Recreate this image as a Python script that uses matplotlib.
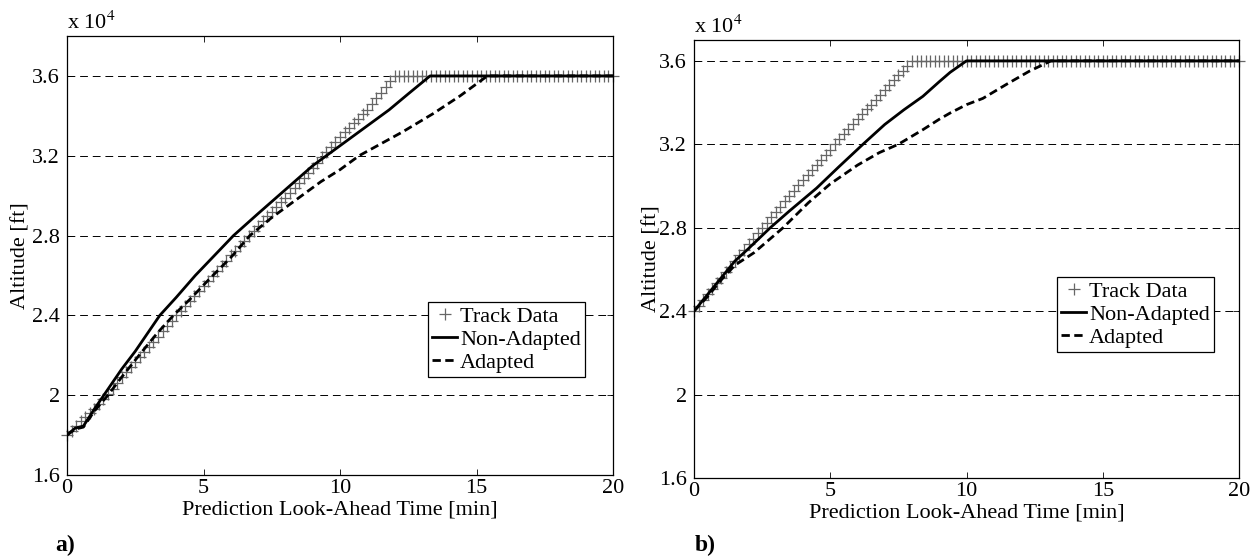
import numpy as np
import matplotlib
matplotlib.use("Agg")
import matplotlib.pyplot as plt
from matplotlib.ticker import FormatStrFormatter

plt.rcParams["font.family"] = ["Liberation Serif", "DejaVu Serif"]
plt.rcParams["mathtext.fontset"] = "stix"

# track data sampled every 10 s (altitude in ft)
track_dt_min = 10.0 / 60.0

track_a = [
    18000, 18230, 18470, 18700, 18900, 19100, 19300, 19550, 19800, 20050,
    20330, 20620, 20900, 21150, 21400, 21650, 21900, 22150, 22400, 22670,
    22930, 23200, 23470, 23730, 24000, 24240, 24480, 24730, 24970, 25210,
    25450, 25710, 25970, 26230, 26480, 26740, 27000, 27250, 27500, 27750,
    28000, 28250, 28500, 28730, 28970, 29200, 29430, 29670, 29900, 30150,
    30400, 30650, 30900, 31150, 31400, 31660, 31920, 32170, 32430, 32690,
    32950, 33180, 33400, 33630, 33850, 34080, 34300, 34580, 34870, 35150,
    35430, 35720, 36000, 36000, 36000, 36000, 36000, 36000, 36000, 36000,
    36000, 36000, 36000, 36000, 36000, 36000, 36000, 36000, 36000, 36000,
    36000, 36000, 36000, 36000, 36000, 36000, 36000, 36000, 36000, 36000,
    36000, 36000, 36000, 36000, 36000, 36000, 36000, 36000, 36000, 36000,
    36000, 36000, 36000, 36000, 36000, 36000, 36000, 36000, 36000, 36000,
    36000,
]

track_b = [
    24000, 24270, 24530, 24800, 25070, 25330, 25600, 25870, 26130, 26400,
    26670, 26930, 27200, 27470, 27730, 28000, 28250, 28500, 28750, 29010,
    29270, 29530, 29780, 30040, 30300, 30540, 30780, 31030, 31270, 31510,
    31750, 31990, 32230, 32480, 32720, 32960, 33200, 33430, 33670, 33900,
    34130, 34370, 34600, 34830, 35070, 35300, 35530, 35770, 36000, 36000,
    36000, 36000, 36000, 36000, 36000, 36000, 36000, 36000, 36000, 36000,
    36000, 36000, 36000, 36000, 36000, 36000, 36000, 36000, 36000, 36000,
    36000, 36000, 36000, 36000, 36000, 36000, 36000, 36000, 36000, 36000,
    36000, 36000, 36000, 36000, 36000, 36000, 36000, 36000, 36000, 36000,
    36000, 36000, 36000, 36000, 36000, 36000, 36000, 36000, 36000, 36000,
    36000, 36000, 36000, 36000, 36000, 36000, 36000, 36000, 36000, 36000,
    36000, 36000, 36000, 36000, 36000, 36000, 36000, 36000, 36000, 36000,
    36000,
]

# trajectory predictions (time in min, altitude in ft)
nonadapt_a_t = [0, 0.3, 0.6, 1.0, 1.4, 2.0, 2.5, 3.0, 3.4, 4.0, 4.7, 5.4,
                6.1, 7.0, 8.0, 9.0, 9.5, 10.0, 10.6, 11.2, 11.8, 12.5, 13.3, 20]
nonadapt_a = [18000, 18350, 18450, 19300, 20100, 21300, 22200, 23200, 24000,
              24900, 26000, 27000, 28000, 29100, 30300, 31500, 32000, 32500,
              33100, 33700, 34300, 35100, 36000, 36000]

adapt_a_t = [0, 0.3, 0.6, 1.0, 1.5, 2.0, 2.7, 3.3, 3.9, 4.5, 5.2, 6.0, 6.7,
             7.5, 8.5, 9.3, 10.0, 10.7, 11.5, 12.3, 13.4, 14.4, 15.4, 20]
adapt_a = [18000, 18300, 18400, 19200, 20000, 20900, 22100, 23100, 24000,
           24800, 25800, 26900, 28000, 28900, 29900, 30700, 31300, 32000,
           32600, 33200, 34100, 35000, 36000, 36000]

nonadapt_b_t = [0, 0.5, 1.0, 1.5, 2.0, 2.8, 3.5, 4.5, 5.3, 6.2, 7.0, 7.7,
                8.4, 9.0, 9.4, 10.0, 20]
nonadapt_b = [24000, 24800, 25600, 26400, 27000, 28000, 28800, 29900, 30900,
              32000, 32950, 33650, 34300, 35000, 35450, 36000, 36000]

adapt_b_t = [0, 0.5, 1.0, 1.5, 2.2, 3.27, 4.2, 5.0, 6.0, 6.8, 7.5, 8.4, 9.0,
             9.4, 10.0, 10.6, 11.5, 12.3, 13.1, 20]
adapt_b = [24000, 24700, 25500, 26200, 26800, 28000, 29200, 30100, 31000,
           31600, 32000, 32700, 33200, 33500, 33900, 34200, 34900, 35500,
           36000, 36000]

yticks = [1.6, 2.0, 2.4, 2.8, 3.2, 3.6]
xticks = [0, 5, 10, 15, 20]

FS = 16

fig = plt.figure(figsize=(12.52, 5.59), dpi=100)
ax_a = fig.add_axes([67 / 1252, 1 - 475 / 559, 546 / 1252, 439 / 559])
ax_b = fig.add_axes([694 / 1252, 1 - 478 / 559, 545 / 1252, 438 / 559])

panels = [
    (ax_a, track_a, nonadapt_a_t, nonadapt_a, adapt_a_t, adapt_a, 3.8,
     (0.661, 0.394), "a)", 55 / 1252, -0.066),
    (ax_b, track_b, nonadapt_b_t, nonadapt_b, adapt_b_t, adapt_b, 3.7,
     (0.666, 0.459), "b)", 695 / 1252, -0.060),
]

for ax, trk, nt, nv, at, av, ytop, leg_pos, tag, tag_x, ylab_x in panels:
    t_trk = np.arange(len(trk)) * track_dt_min
    ax.plot(t_trk, np.array(trk) / 1e4, linestyle="none", marker="+",
            markersize=9, markeredgewidth=0.9, color="0.4",
            label="Track Data", clip_on=False, zorder=2)
    ax.plot(nt, np.array(nv) / 1e4, "-", color="black", linewidth=2.0,
            label="Non-Adapted", zorder=3)
    ax.plot(at, np.array(av) / 1e4, color="black", linewidth=2.0,
            linestyle=(0, (3, 1.6)), label="Adapted", zorder=3)

    ax.set_xlim(0, 20)
    ax.set_ylim(1.6, ytop)
    ax.set_xticks(xticks)
    ax.set_yticks(yticks)
    ax.yaxis.set_major_formatter(FormatStrFormatter("%g"))
    ax.tick_params(direction="in", top=True, right=True, length=4,
                   width=0.6, labelsize=FS)
    ax.tick_params(axis="x", pad=3)
    ax.tick_params(axis="y", pad=5)
    ax.grid(True, axis="y", color="black", linewidth=0.7,
            linestyle=(0, (8, 5)))
    for sp in ax.spines.values():
        sp.set_linewidth(0.9)

    ax.set_xlabel("Prediction Look-Ahead Time [min]", fontsize=FS,
                  labelpad=2)
    ax.set_ylabel("Altitude [ft]", fontsize=FS)
    ax.yaxis.set_label_coords(ylab_x, 0.5)
    ax.text(0, 1.004, r"x 10$^4$", transform=ax.transAxes, ha="left",
            va="bottom", fontsize=FS)

    leg = ax.legend(loc="upper left", bbox_to_anchor=leg_pos,
                    borderaxespad=0, fontsize=FS, frameon=True,
                    fancybox=False, edgecolor="black", framealpha=1,
                    handlelength=1.1, handletextpad=0.15, labelspacing=0.1,
                    borderpad=0.2)
    leg.get_frame().set_linewidth(0.9)

    fig.text(tag_x, 1 - 545 / 559, tag, fontsize=17, fontweight="bold",
             ha="left", va="center")

fig.savefig("out.png", dpi=100, facecolor="white")
